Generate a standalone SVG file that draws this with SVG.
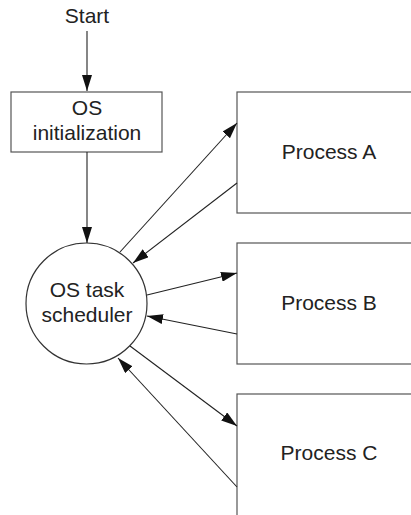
<svg xmlns="http://www.w3.org/2000/svg" width="411" height="515" viewBox="0 0 411 515">
<style>
.box{fill:#fff;stroke:#555;stroke-width:1.2}
.node{fill:#fff;stroke:#333;stroke-width:1.2}
.lbl{font-family:"Liberation Sans",Arial,sans-serif;font-size:21px;fill:#222;text-anchor:middle}
.conn{stroke:#222;stroke-width:1.1;fill:none;marker-end:url(#ah)}
</style>
<defs>
<marker id="ah" viewBox="0 0 16 10" refX="16" refY="5" markerWidth="16" markerHeight="10" markerUnits="userSpaceOnUse" orient="auto">
<path d="M0,0 L16,5 L0,10 z" fill="#111"/>
</marker>
</defs>
<rect width="411" height="515" fill="#fff"/>
<g id="start"><text class="lbl" x="87" y="23">Start</text></g>
<g id="os-init">
<rect class="box" x="11" y="92" width="151" height="60"/>
<text class="lbl" x="87" y="115">OS</text>
<text class="lbl" x="87" y="140">initialization</text>
</g>
<g id="scheduler">
<circle class="node" cx="86.5" cy="303.5" r="60.5"/>
<text class="lbl" x="87" y="297">OS task</text>
<text class="lbl" x="87" y="322">scheduler</text>
</g>
<g id="process-a">
<rect class="box" x="237" y="92" width="200" height="121"/>
<text class="lbl" x="329" y="159">Process A</text>
</g>
<g id="process-b">
<rect class="box" x="237" y="243" width="200" height="121"/>
<text class="lbl" x="329" y="310">Process B</text>
</g>
<g id="process-c">
<rect class="box" x="237" y="394" width="200" height="140"/>
<text class="lbl" x="329" y="460">Process C</text>
</g>
<g id="connectors">
<line class="conn" x1="87" y1="31" x2="87" y2="91"/>
<line class="conn" x1="87" y1="152" x2="87" y2="243"/>
<line class="conn" x1="120" y1="252" x2="237" y2="123"/>
<line class="conn" x1="237" y1="183" x2="133" y2="263"/>
<line class="conn" x1="147" y1="295" x2="237" y2="273"/>
<line class="conn" x1="237" y1="334" x2="147" y2="316"/>
<line class="conn" x1="130" y1="346" x2="237" y2="426"/>
<line class="conn" x1="237" y1="487" x2="118" y2="358"/>
</g>
</svg>
